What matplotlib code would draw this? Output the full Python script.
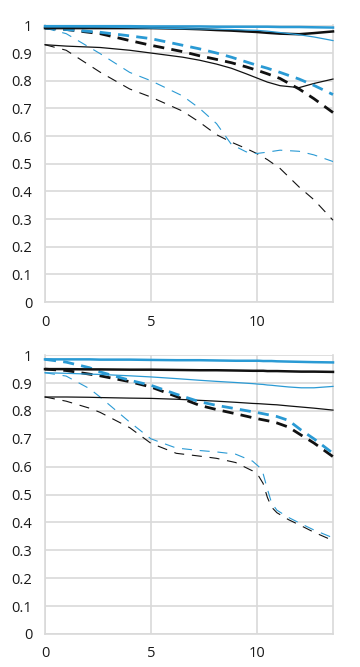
import matplotlib
matplotlib.use("Agg")
import matplotlib.pyplot as plt

# field position (mm)
x_top = [0, 1, 2.6, 4, 5, 6.5, 7.3, 8.1, 8.8, 9.5, 10, 10.5, 11.1, 12, 12.7, 13.6]

# top chart
top_thick_blue = [0.997, 0.997, 0.997, 0.997, 0.996, 0.996, 0.996, 0.995, 0.995, 0.995, 0.995, 0.995, 0.994, 0.994, 0.993, 0.992]
top_thin_blue = [0.995, 0.995, 0.994, 0.992, 0.99, 0.988, 0.987, 0.986, 0.985, 0.983, 0.982, 0.979, 0.974, 0.966, 0.958, 0.945]
top_thick_black = [0.99, 0.99, 0.99, 0.99, 0.99, 0.988, 0.986, 0.983, 0.981, 0.978, 0.976, 0.973, 0.97, 0.968, 0.972, 0.978]
top_thin_black = [0.93, 0.925, 0.92, 0.91, 0.90, 0.885, 0.874, 0.86, 0.845, 0.825, 0.81, 0.795, 0.782, 0.775, 0.79, 0.806]
top_thick_black_d = [0.99, 0.985, 0.97, 0.945, 0.928, 0.905, 0.89, 0.877, 0.865, 0.85, 0.838, 0.825, 0.808, 0.77, 0.735, 0.685]
top_thick_blue_d = [0.99, 0.985, 0.975, 0.962, 0.952, 0.928, 0.915, 0.9, 0.885, 0.868, 0.856, 0.845, 0.83, 0.806, 0.783, 0.75]
top_thin_blue_d = [0.99, 0.97, 0.898, 0.83, 0.80, 0.745, 0.70, 0.645, 0.57, 0.543, 0.537, 0.542, 0.549, 0.545, 0.532, 0.508]
top_thin_black_d = [0.93, 0.91, 0.831, 0.77, 0.741, 0.69, 0.65, 0.605, 0.578, 0.555, 0.537, 0.515, 0.483, 0.416, 0.37, 0.296]

# bottom chart
x_bot = [0, 1, 2.1, 2.6, 4, 5, 6.2, 7.3, 8.1, 9, 9.8, 10.1, 10.3, 10.5, 10.7, 10.95, 11.5, 12.1, 12.7, 13.6]
bot_thick_blue = [0.985, 0.985, 0.985, 0.984, 0.984, 0.983, 0.982, 0.982, 0.981, 0.98, 0.98, 0.98, 0.979, 0.979, 0.979, 0.978, 0.977, 0.976, 0.975, 0.974]
bot_thick_black = [0.95, 0.95, 0.949, 0.949, 0.948, 0.948, 0.947, 0.946, 0.946, 0.945, 0.944, 0.944, 0.944, 0.943, 0.943, 0.943, 0.942, 0.941, 0.941, 0.94]
bot_thin_blue = [0.937, 0.935, 0.932, 0.931, 0.926, 0.922, 0.916, 0.91, 0.906, 0.902, 0.898, 0.896, 0.895, 0.893, 0.892, 0.89, 0.886, 0.883, 0.883, 0.888]
bot_thin_black = [0.85, 0.85, 0.849, 0.848, 0.846, 0.845, 0.842, 0.838, 0.835, 0.831, 0.827, 0.826, 0.825, 0.824, 0.823, 0.822, 0.818, 0.814, 0.81, 0.803]
bot_thick_blue_d = [0.985, 0.975, 0.955, 0.94, 0.91, 0.892, 0.86, 0.833, 0.82, 0.808, 0.797, 0.793, 0.79, 0.787, 0.784, 0.78, 0.766, 0.731, 0.70, 0.648]
bot_thick_black_d = [0.95, 0.945, 0.932, 0.926, 0.905, 0.886, 0.852, 0.82, 0.805, 0.79, 0.776, 0.771, 0.768, 0.765, 0.762, 0.757, 0.742, 0.713, 0.685, 0.636]
bot_thin_blue_d = [0.937, 0.925, 0.88, 0.85, 0.76, 0.70, 0.667, 0.658, 0.653, 0.645, 0.62, 0.60, 0.575, 0.52, 0.47, 0.444, 0.418, 0.395, 0.373, 0.345]
bot_thin_black_d = [0.85, 0.835, 0.81, 0.795, 0.74, 0.684, 0.648, 0.638, 0.63, 0.615, 0.585, 0.565, 0.54, 0.49, 0.455, 0.435, 0.41, 0.388, 0.365, 0.335]

xticks = [0, 5, 10]
yticks = [0, 0.1, 0.2, 0.3, 0.4, 0.5, 0.6, 0.7, 0.8, 0.9, 1]
ytick_labels = ["0", "0.1", "0.2", "0.3", "0.4", "0.5", "0.6", "0.7", "0.8", "0.9", "1"]

BLUE = "#2a9ad4"
BLACK = "#111111"
GRID = "#d9d9d9"

plt.rcParams["font.family"] = ["Open Sans", "DejaVu Sans"]

fig = plt.figure(figsize=(3.6, 6.67), dpi=100)
ax_top = fig.add_axes([0.125, 0.547, 0.8, 0.415])
ax_bot = fig.add_axes([0.125, 0.0495, 0.8, 0.418])


def draw_chart(ax, x, series):
    for y, color, lw, ls in series:
        ax.plot(x, y, color=color, lw=lw, ls=ls, clip_on=False, zorder=3)
    ax.set_xlim(0, 13.6)
    ax.set_ylim(0, 1)
    ax.set_xticks(xticks)
    ax.set_xticklabels([str(t) for t in xticks])
    ax.set_yticks(yticks)
    ax.set_yticklabels(ytick_labels)
    ax.grid(True, color=GRID, lw=1.2, zorder=0)
    for s in ax.spines.values():
        s.set_color(GRID)
        s.set_linewidth(1.2)
    ax.spines["top"].set_visible(False)
    ax.tick_params(length=0, labelsize=10.5, colors="#1a1a1a", pad=9)


thick_dash = (0, (4, 2.6))
thin_dash = (0, (9, 7))

draw_chart(ax_top, x_top, [
    (top_thin_black_d, BLACK, 0.8, thin_dash),
    (top_thin_blue_d, BLUE, 0.8, thin_dash),
    (top_thin_black, BLACK, 0.9, "-"),
    (top_thick_black_d, BLACK, 2.0, thick_dash),
    (top_thick_blue_d, BLUE, 2.0, thick_dash),
    (top_thick_black, BLACK, 1.8, "-"),
    (top_thin_blue, BLUE, 0.9, "-"),
    (top_thick_blue, BLUE, 1.8, "-"),
])

draw_chart(ax_bot, x_bot, [
    (bot_thin_black_d, BLACK, 0.8, thin_dash),
    (bot_thin_blue_d, BLUE, 0.8, thin_dash),
    (bot_thin_black, BLACK, 0.9, "-"),
    (bot_thick_black_d, BLACK, 2.0, thick_dash),
    (bot_thick_blue_d, BLUE, 2.0, thick_dash),
    (bot_thin_blue, BLUE, 0.9, "-"),
    (bot_thick_black, BLACK, 1.8, "-"),
    (bot_thick_blue, BLUE, 1.8, "-"),
])

fig.savefig("out.png", dpi=100, facecolor="white")
